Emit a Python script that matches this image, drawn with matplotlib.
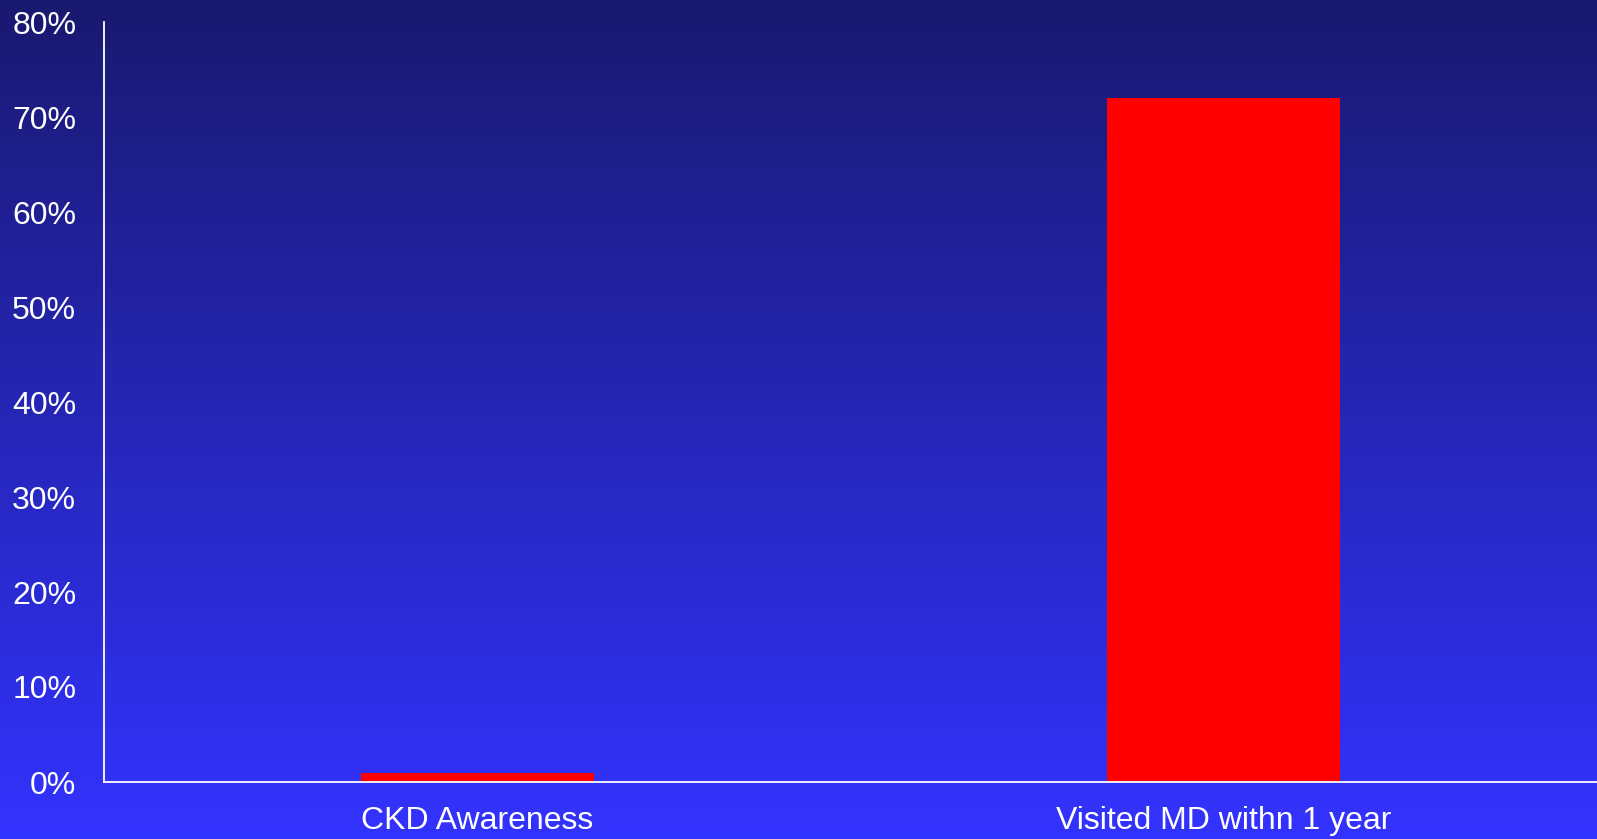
import numpy as np
import matplotlib.pyplot as plt
from matplotlib.colors import LinearSegmentedColormap
from matplotlib.ticker import PercentFormatter

categories = ["CKD Awareness", "Visited MD withn 1 year"]
percent_values = [1, 72]
y_ticks = [0, 10, 20, 30, 40, 50, 60, 70, 80]

plt.rcParams['font.family'] = ['Liberation Sans', 'DejaVu Sans']

fig = plt.figure(figsize=(15.97, 8.39), dpi=100)

# vertical gradient behind everything
bg = fig.add_axes([0, 0, 1, 1], zorder=0)
grad = np.linspace(0, 1, 256).reshape(-1, 1)
cmap = LinearSegmentedColormap.from_list("bg", ["#191970", "#3333ff"])
bg.imshow(grad, aspect="auto", cmap=cmap, extent=[0, 1, 0, 1], origin="upper")
bg.axis("off")

ax = fig.add_axes([104 / 1597, 1 - 782 / 839, 1 - 104 / 1597, (782 - 22) / 839], zorder=1)
ax.patch.set_alpha(0)

x = np.arange(len(categories))
ax.bar(x, percent_values, width=0.3125, color="#ff0000")

ax.set_xlim(-0.5, 1.5)
ax.set_ylim(0, 80)
ax.set_yticks(y_ticks)
ax.yaxis.set_major_formatter(PercentFormatter(decimals=0))
ax.set_xticks(x)
ax.set_xticklabels(categories)

for side in ["top", "right"]:
    ax.spines[side].set_visible(False)
for side in ["left", "bottom"]:
    ax.spines[side].set_color("white")
    ax.spines[side].set_linewidth(1.3)

ax.tick_params(axis="y", length=0, pad=20, labelsize=23, labelcolor="white")
ax.tick_params(axis="x", length=0, pad=17, labelsize=23, labelcolor="white")

fig.savefig("out.png", dpi=100)
